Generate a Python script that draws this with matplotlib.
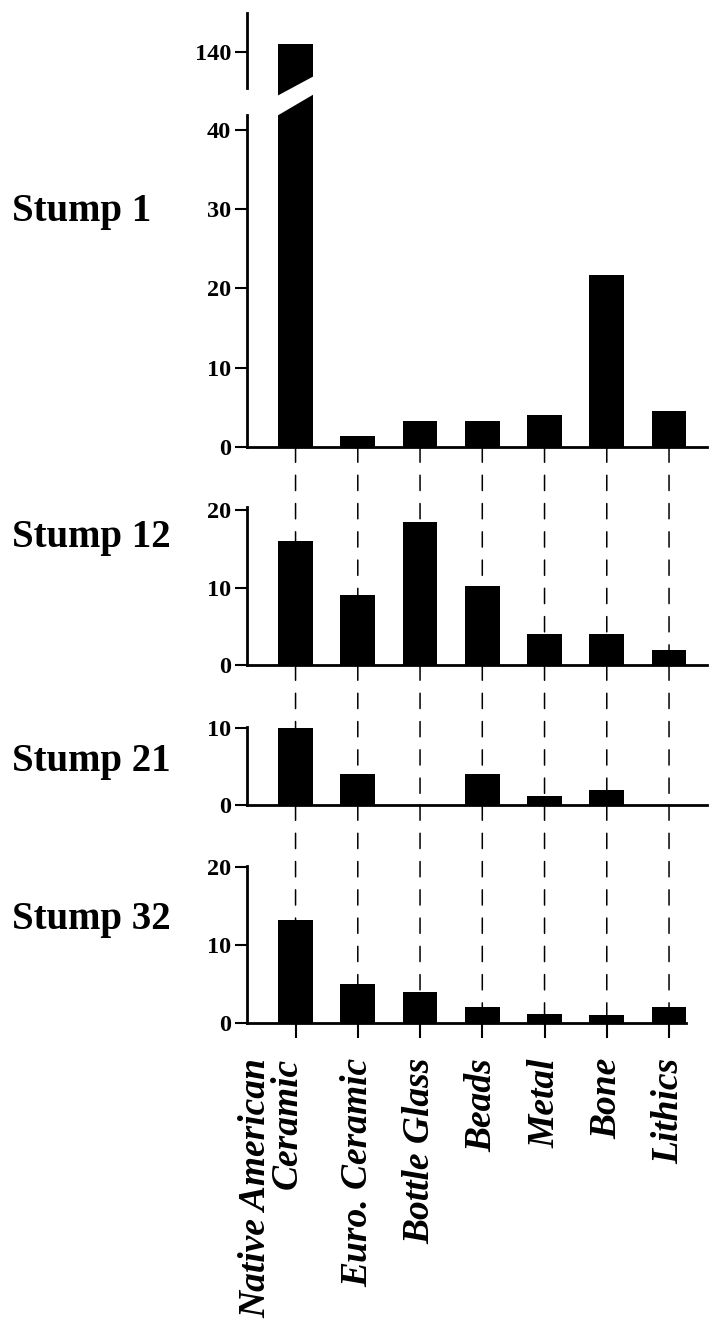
import matplotlib
matplotlib.use("Agg")
import matplotlib.pyplot as plt
from matplotlib.patches import ConnectionPatch, Polygon
from matplotlib.transforms import blended_transform_factory, ScaledTranslation

# Artifact counts per stump
categories = ["Native American\nCeramic", "Euro. Ceramic", "Bottle Glass",
              "Beads", "Metal", "Bone", "Lithics"]
stump_names = ["Stump 1", "Stump 12", "Stump 21", "Stump 32"]
stump1 = [141, 1.4, 3.3, 3.3, 4.0, 21.7, 4.5]
stump12 = [16, 9, 18.4, 10.2, 4, 4, 2]
stump21 = [10, 4, 0, 4, 1.2, 2, 0]
stump32 = [13.2, 5, 4, 2, 1.2, 1, 2]

yticks1_hi = [140]
yticks1_lo = [0, 10, 20, 30, 40]
yticks12 = [0, 10, 20]
yticks21 = [0, 10]
yticks32 = [0, 10, 20]

plt.rcParams['font.family'] = ['Liberation Serif', 'DejaVu Serif']
plt.rcParams['font.weight'] = 'bold'

W, H = 709, 1324
L, R = 247, 707
fig = plt.figure(figsize=(W / 100, H / 100), dpi=100)


def add_ax(top_px, bottom_px):
    return fig.add_axes([L / W, 1 - bottom_px / H, (R - L) / W, (bottom_px - top_px) / H])


x = list(range(len(categories)))
xlim = (-0.78, 6.61)
bar_w = 0.56


def style(ax, ylim, yticks, bounds=None, bottom=True):
    ax.set_facecolor('none')
    ax.set_xlim(*xlim)
    ax.set_ylim(*ylim)
    ax.set_yticks(yticks)
    ax.set_xticks([])
    for s in ['top', 'right']:
        ax.spines[s].set_visible(False)
    ax.spines['left'].set_linewidth(2)
    ax.spines['bottom'].set_linewidth(2)
    if not bottom:
        ax.spines['bottom'].set_visible(False)
    if bounds is not None:
        ax.spines['left'].set_bounds(*bounds)
    ax.tick_params(axis='y', direction='out', length=8.5, width=1.5, pad=3, labelsize=17.5)


# Stump 1, broken axis
ax1_hi = add_ax(13, 97)
ax1_lo = add_ax(93, 447)
ax12 = add_ax(507, 665)
ax21 = add_ax(727, 805)
ax32 = add_ax(866, 1023)

ppu = 7.93
ax1_hi.bar(x, stump1, width=bar_w, color='black', zorder=3)
style(ax1_hi, (140 - (97 - 52) / ppu, 140 + (52 - 13) / ppu), yticks1_hi,
      bounds=(140 - (88 - 52) / ppu, 140 + (52 - 13) / ppu), bottom=False)
ax1_lo.bar(x, stump1, width=bar_w, color='black', zorder=3)
style(ax1_lo, (0, (447 - 93) / ppu), yticks1_lo, bounds=(0, (447 - 115) / ppu))

ax12.bar(x, stump12, width=bar_w, color='black', zorder=3)
style(ax12, (0, 20.4), yticks12)
ax21.bar(x, stump21, width=bar_w, color='black', zorder=3)
style(ax21, (0, 10.1), yticks21)
ax32.bar(x, stump32, width=bar_w, color='black', zorder=3)
style(ax32, (0, 20.1), yticks32)
ax32.spines['bottom'].set_bounds(xlim[0], 6 + bar_w / 2)
ax32.set_xticks(x)
ax32.tick_params(axis='x', direction='out', length=11, width=1.5, labelbottom=False)

# white slanted cut through the tall bar
fig.canvas.draw()
inv = fig.transFigure.inverted()
xl = inv.transform(ax1_lo.transData.transform((x[0] - bar_w / 2, 0)))[0] - 3 / W
xr = inv.transform(ax1_lo.transData.transform((x[0] + bar_w / 2, 0)))[0] + 3 / W
cut = Polygon([(xl, 1 - 97 / H), (xr, 1 - 75 / H), (xr, 1 - 93 / H), (xl, 1 - 117 / H)],
              closed=True, transform=fig.transFigure, facecolor='white',
              edgecolor='none', zorder=5)
fig.add_artist(cut)

# dashed guides linking the categories across panels
for upper, lower in [(ax1_lo, ax12), (ax12, ax21), (ax21, ax32)]:
    for xi in x:
        con = ConnectionPatch(xyA=(xi, 0), coordsA=upper.transData,
                              xyB=(xi, 0), coordsB=lower.transData,
                              linestyle=(0, (10, 8.5)), lw=1.1, color='black')
        con.set_zorder(-1)
        fig.add_artist(con)

# category labels
for xi, cat in zip(x, categories):
    dx = -24 if '\n' in cat else 0
    tr = blended_transform_factory(ax32.transData, ax32.transAxes) + \
        ScaledTranslation(dx / 100, -35 / 100, fig.dpi_scale_trans)
    ax32.text(xi, 0, cat, transform=tr, rotation=90, ha='center', va='top',
              multialignment='right', fontsize=27, style='italic', weight='bold',
              linespacing=0.9, clip_on=False)

# stump labels
label_y = [211, 537, 761, 920]
for name, yp in zip(stump_names, label_y):
    fig.text(12 / W, 1 - yp / H, name, ha='left', va='center', fontsize=28, weight='bold')

fig.savefig("out.png", dpi=100, facecolor='white')
